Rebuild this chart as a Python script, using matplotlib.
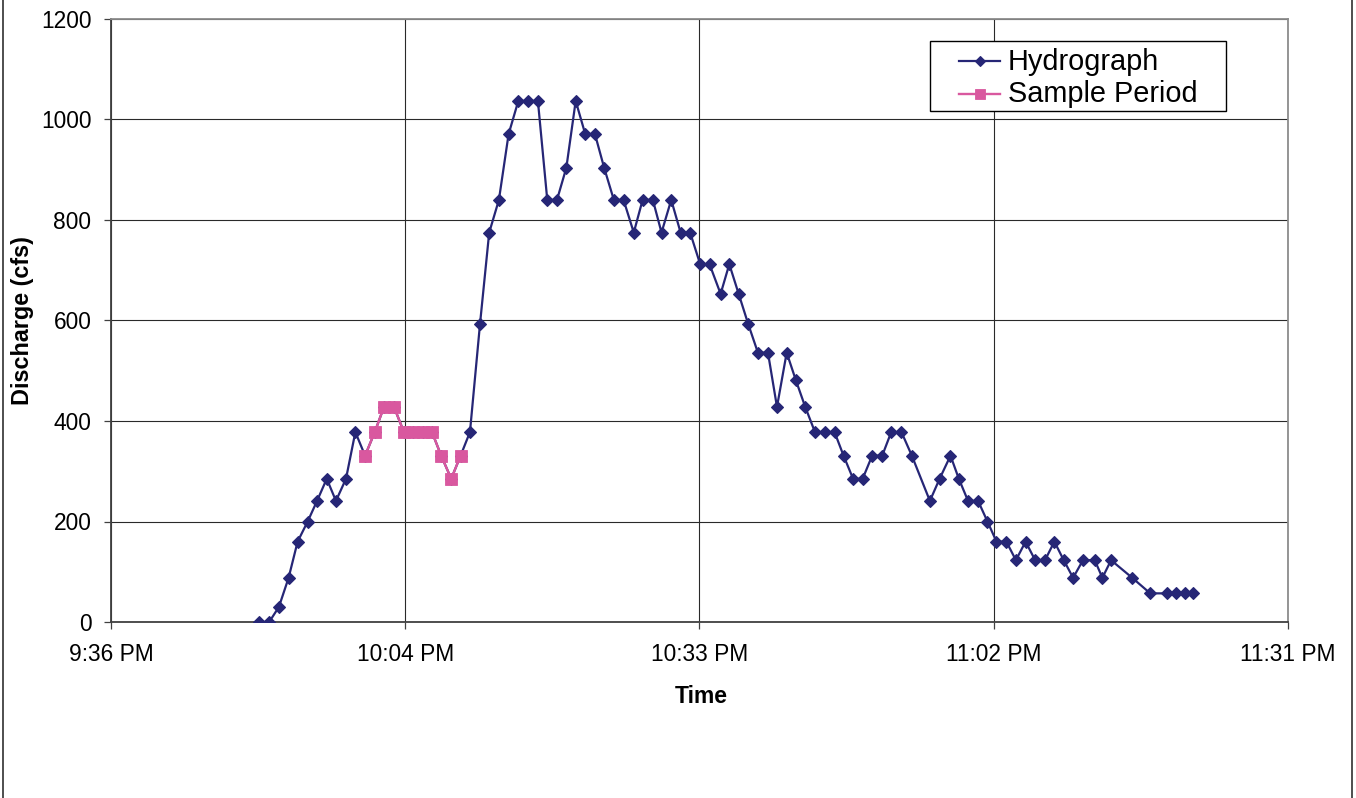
import matplotlib
matplotlib.use("Agg")
import matplotlib.pyplot as plt
from matplotlib.lines import Line2D
from matplotlib.patches import Rectangle
from matplotlib.ticker import FixedLocator, FuncFormatter

plt.rcParams['font.family'] = ['Liberation Sans', 'DejaVu Sans']

# Hydrograph readings (clock time, discharge in cfs)
hydro_times = [
    "21:50:31", "21:51:29", "21:52:26", "21:53:23", "21:54:16", "21:55:15",
    "21:56:10", "21:57:07", "21:58:01", "21:59:00", "21:59:55", "22:00:52",
    "22:01:49", "22:02:43", "22:03:42", "22:04:40", "22:05:33", "22:06:32",
    "22:07:25", "22:08:19", "22:09:18", "22:10:13", "22:11:08", "22:12:07",
    "22:13:01", "22:13:58", "22:14:55", "22:15:52", "22:16:49", "22:17:47",
    "22:18:42", "22:19:39", "22:20:34", "22:21:29", "22:22:25", "22:23:22",
    "22:24:16", "22:25:13", "22:26:10", "22:27:10", "22:28:02", "22:29:02",
    "22:29:53", "22:30:50", "22:31:45", "22:32:41", "22:33:40", "22:34:35",
    "22:35:40", "22:36:31", "22:37:26", "22:38:22", "22:39:19", "22:40:18",
    "22:41:11", "22:42:08", "22:43:02", "22:43:57", "22:44:54", "22:45:54",
    "22:46:49", "22:47:42", "22:48:38", "22:49:34", "22:50:30", "22:51:29",
    "22:52:22", "22:53:22", "22:54:23", "22:56:09", "22:57:06", "22:58:10",
    "22:58:59", "22:59:53", "23:00:52", "23:01:47", "23:02:40", "23:03:38",
    "23:04:34", "23:05:31", "23:06:27", "23:07:25", "23:08:20", "23:09:15",
    "23:10:10", "23:11:08", "23:12:17", "23:13:02", "23:13:53", "23:15:57",
    "23:17:43", "23:19:20", "23:20:15", "23:21:10", "23:21:57",
]
hydro_cfs = [
    0, 0, 30, 88, 160, 200,
    241, 285, 241, 285, 378, 331,
    378, 428, 428, 378, 378, 378,
    378, 331, 285, 331, 378, 593,
    775, 840, 971, 1037, 1037, 1037,
    840, 840, 904, 1037, 971, 971,
    904, 840, 840, 775, 840, 840,
    775, 840, 775, 775, 712, 712,
    653, 712, 653, 593, 536, 536,
    428, 536, 481, 428, 378, 378,
    378, 331, 285, 285, 331, 331,
    378, 378, 331, 241, 285, 331,
    285, 241, 241, 200, 160, 160,
    123, 160, 123, 123, 160, 123,
    88, 123, 123, 88, 123, 88,
    57, 57, 57, 57, 57,
]

# Samples collected during the event
sample_times = [
    "22:00:52", "22:01:49", "22:02:43", "22:03:42", "22:04:40", "22:05:33",
    "22:06:32", "22:07:25", "22:08:19", "22:09:18", "22:10:13",
]
sample_cfs = [331, 378, 428, 428, 378, 378, 378, 378, 331, 285, 331]

series_names = ["Hydrograph", "Sample Period"]

# Axis ticks as fractions of a day (spreadsheet-style time values)
x_ticks = [0.90, 0.92, 0.94, 0.96, 0.98]
y_ticks = [0, 200, 400, 600, 800, 1000, 1200]


def day_fraction(stamp):
    h, m, s = (int(p) for p in stamp.split(":"))
    return (h * 3600 + m * 60 + s) / 86400.0


def clock_label(value, _pos=None):
    total_min = int(round(value * 1440 * 60)) // 60
    h, m = divmod(total_min, 60)
    suffix = "PM" if h >= 12 else "AM"
    h12 = h % 12 or 12
    return f"{h12}:{m:02d} {suffix}"


W, H = 1356, 798
fig = plt.figure(figsize=(W / 100, H / 100), dpi=100)
fig.patch.set_facecolor("white")


def fx(px):
    return px / W


def fy(py):
    return 1 - py / H


left, right, top, bottom = 111, 1288, 19, 622
ax = fig.add_axes([fx(left), fy(bottom), (right - left) / W, (bottom - top) / H])

hx = [day_fraction(t) for t in hydro_times]
sx = [day_fraction(t) for t in sample_times]

navy = "#262676"
pink = "#d9589f"
hydro_style = dict(color=navy, lw=1.6, marker="D", ms=6.0,
                   mfc=navy, mec=navy, mew=0.8)
sample_style = dict(color=pink, lw=1.7, marker="s", ms=8.6,
                    mfc=pink, mec=pink, mew=0.6)

ax.plot(hx, hydro_cfs, zorder=3, **hydro_style)
ax.plot(sx, sample_cfs, zorder=4, **sample_style)

ax.set_xlim(x_ticks[0], x_ticks[-1])
ax.set_ylim(y_ticks[0], y_ticks[-1])
ax.xaxis.set_major_locator(FixedLocator(x_ticks))
ax.xaxis.set_major_formatter(FuncFormatter(clock_label))
ax.yaxis.set_major_locator(FixedLocator(y_ticks))

ax.grid(True, color="#2a2a2a", lw=0.8, zorder=1)
ax.set_axisbelow(True)

for side in ("left", "bottom"):
    ax.spines[side].set_color("#404040")
    ax.spines[side].set_linewidth(1.3)
for side in ("top", "right"):
    ax.spines[side].set_color("#8c8c8c")
    ax.spines[side].set_linewidth(1.3)

ax.tick_params(axis="both", direction="out", length=5.2, width=0.9,
               color="#404040", labelsize=16.4, labelcolor="black")
ax.tick_params(axis="y", pad=9)
ax.tick_params(axis="x", pad=10)

fig.text(fx(701), fy(703), "Time", ha="center", va="baseline",
         fontsize=16.5, fontweight="bold")
fig.text(fx(29), fy(320.5), "Discharge (cfs)", rotation=90,
         rotation_mode="anchor", ha="center", va="baseline",
         fontsize=16.8, fontweight="bold")

# Legend box with line-and-marker keys
fig.add_artist(Rectangle((fx(930), fy(111)), (1226 - 930) / W, 70 / H,
                         transform=fig.transFigure, facecolor="white",
                         edgecolor="black", lw=1.0, zorder=5))
for name, style, y_mid, y_base in ((series_names[0], hydro_style, 61, 70),
                                   (series_names[1], sample_style, 94, 102)):
    fig.add_artist(Line2D([fx(959), fx(1000)], [fy(y_mid), fy(y_mid)],
                          transform=fig.transFigure, color=style["color"],
                          lw=style["lw"], zorder=6))
    fig.add_artist(Line2D([fx(979.5)], [fy(y_mid)], transform=fig.transFigure,
                          linestyle="none", marker=style["marker"],
                          ms=style["ms"] * 0.9, mfc=style["mfc"],
                          mec=style["mec"], mew=style["mew"], zorder=7))
    fig.text(fx(1008), fy(y_base), name, ha="left", va="baseline",
             fontsize=20.8, zorder=8)

# Outer chart border (left and right edges)
for xp in (3, 1352):
    fig.add_artist(Line2D([fx(xp), fx(xp)], [0, 1], transform=fig.transFigure,
                          color="#303030", lw=1.2))

fig.savefig("out.png", dpi=100, facecolor="white")
